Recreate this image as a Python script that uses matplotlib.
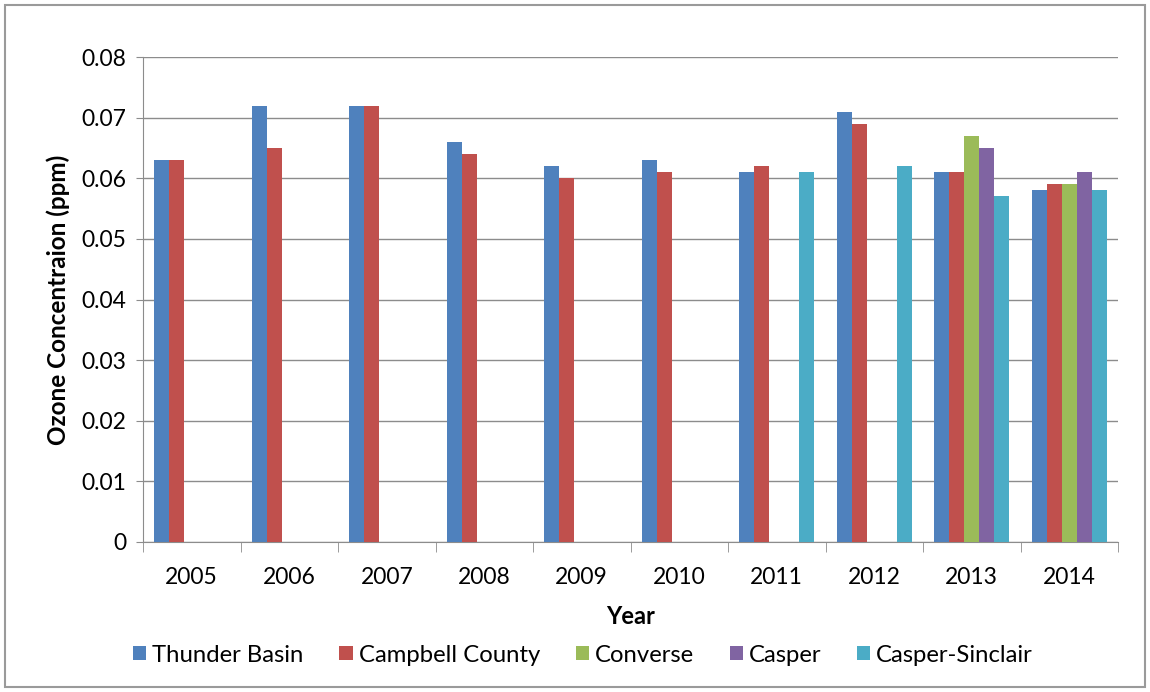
import matplotlib
matplotlib.use("Agg")
import matplotlib.pyplot as plt
import numpy as np
from matplotlib.patches import Rectangle

years = ["2005", "2006", "2007", "2008", "2009", "2010", "2011", "2012", "2013", "2014"]
thunder_basin = [0.063, 0.072, 0.072, 0.066, 0.062, 0.063, 0.061, 0.071, 0.061, 0.058]
campbell_county = [0.063, 0.065, 0.072, 0.064, 0.060, 0.061, 0.062, 0.069, 0.061, 0.059]
converse = [np.nan] * 8 + [0.067, 0.059]
casper = [np.nan] * 8 + [0.065, 0.061]
casper_sinclair = [np.nan] * 6 + [0.061, 0.062, 0.057, 0.058]

series_names = ["Thunder Basin", "Campbell County", "Converse", "Casper", "Casper-Sinclair"]
series_vals = [thunder_basin, campbell_county, converse, casper, casper_sinclair]
colors = ["#4F81BD", "#C0504D", "#9BBB59", "#8064A2", "#4BACC6"]

plt.rcParams['font.family'] = ['Lato', 'DejaVu Sans']

fig = plt.figure(figsize=(11.5, 6.92), dpi=100)
ax = fig.add_axes([143/1150, 1 - 542/692, (1118-143)/1150, (542-57)/692])

n = len(series_names)
bw = 1.0 / (n + 1.5)
x = np.arange(len(years))
for i, (name, vals, c) in enumerate(zip(series_names, series_vals, colors)):
    offs = (i - (n - 1) / 2) * bw
    ax.bar(x + offs, vals, width=bw, color=c, label=name, zorder=3)

ax.set_xlim(-0.5, len(years) - 0.5)
ax.set_ylim(0, 0.08)
ax.set_yticks(np.arange(0, 0.0801, 0.01))
ax.set_yticklabels(["0"] + [f"{v:.2f}" for v in np.arange(0.01, 0.0801, 0.01)])
ax.yaxis.grid(True, color="#8c8c8c", linewidth=1.0, zorder=0)
ax.set_axisbelow(True)

ax.set_xticks(x)
ax.set_xticklabels(years)
ax.set_xticks(np.arange(-0.5, len(years)), minor=True)
ax.tick_params(axis='x', which='major', length=0, pad=18, labelsize=16.5)
ax.tick_params(axis='x', which='minor', length=7, color="#8c8c8c")
ax.tick_params(axis='y', which='major', length=5, color="#8c8c8c", labelsize=16.5, pad=7)

for s in ["top", "right"]:
    ax.spines[s].set_visible(False)
for s in ["left", "bottom"]:
    ax.spines[s].set_color("#8c8c8c")

ax.set_ylabel("Ozone Concentraion (ppm)", fontsize=17.5, fontweight="bold", labelpad=8)
ax.set_xlabel("Year", fontsize=17, fontweight="bold", labelpad=12)

leg = fig.legend(loc="center", bbox_to_anchor=(0.507, 1 - 655/692), ncol=5, frameon=False,
                 fontsize=17.2, handlelength=0.55, handleheight=0.55, columnspacing=1.5, handletextpad=0.25)

fig.patches.append(Rectangle((5/1150, 5/692), 1140/1150, 682/692, transform=fig.transFigure,
                             fill=False, edgecolor="#9a9a9a", linewidth=1.5))

fig.savefig("out.png", dpi=100)
